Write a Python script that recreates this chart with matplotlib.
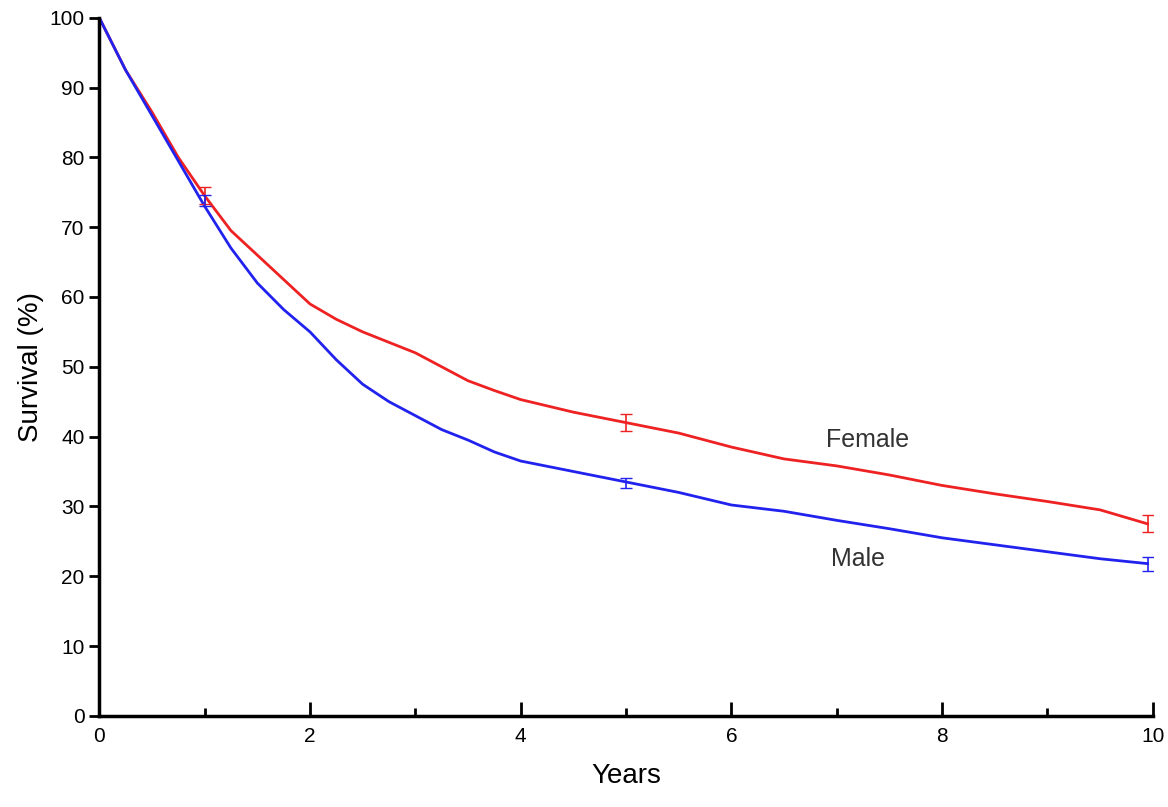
import numpy as np
import matplotlib.pyplot as plt

plt.rcParams['font.family'] = ['Liberation Sans', 'DejaVu Sans']

years = [0, 0.25, 0.5, 0.75, 1, 1.25, 1.5, 1.75, 2, 2.25, 2.5, 2.75, 3, 3.25, 3.5, 3.75, 4, 4.5, 5, 5.5, 6, 6.5, 7, 7.5, 8, 8.5, 9, 9.5, 9.95]
female = [100, 92.5, 86.5, 80, 74.5, 69.5, 66, 62.5, 59, 56.8, 55, 53.5, 52, 50, 48, 46.6, 45.3, 43.5, 42, 40.5, 38.5, 36.8, 35.8, 34.5, 33, 31.8, 30.7, 29.5, 27.5]
male = [100, 92.5, 86, 79.5, 73, 67, 62, 58.2, 55, 51, 47.5, 45, 43, 41, 39.5, 37.8, 36.5, 35, 33.5, 32, 30.2, 29.3, 28, 26.8, 25.5, 24.5, 23.5, 22.5, 21.8]

err_x = [1, 5, 9.95]
female_err = [74.5, 42, 27.5]
male_err = [73.8, 33.3, 21.8]
female_ci = [1.2, 1.2, 1.2]
male_ci = [0.8, 0.7, 1.0]

fig, ax = plt.subplots(figsize=(11.68, 8.07), dpi=100)
fig.subplots_adjust(left=0.085, right=0.987, bottom=0.113, top=0.978)

ax.plot(years, female, color="#ee2222", lw=2)
ax.plot(years, male, color="#2222ee", lw=2)
ax.errorbar(err_x, female_err, yerr=female_ci, fmt="none", ecolor="#ee2222", capsize=4, lw=1.2)
ax.errorbar(err_x, male_err, yerr=male_ci, fmt="none", ecolor="#2222ee", capsize=4, lw=1.2)

ax.text(6.9, 38.5, "Female", fontsize=18, color="#333333")
ax.text(6.95, 21.5, "Male", fontsize=18, color="#333333")

ax.set_xlim(0, 10)
ax.set_ylim(0, 100)
ax.set_xticks(range(0, 11, 2))
ax.set_xticks(range(1, 10, 2), minor=True)
ax.set_yticks(range(0, 101, 10))
ax.tick_params(axis="x", direction="in", length=10, width=2, labelsize=15, pad=8)
ax.tick_params(axis="x", which="minor", direction="in", length=6, width=2)
ax.tick_params(axis="y", direction="out", length=7, width=2, labelsize=15)
for s in ["top", "right"]:
    ax.spines[s].set_visible(False)
for s in ["left", "bottom"]:
    ax.spines[s].set_linewidth(2.5)
ax.set_xlabel("Years", fontsize=20, labelpad=12)
ax.set_ylabel("Survival (%)", fontsize=20)

fig.savefig("out.png")
